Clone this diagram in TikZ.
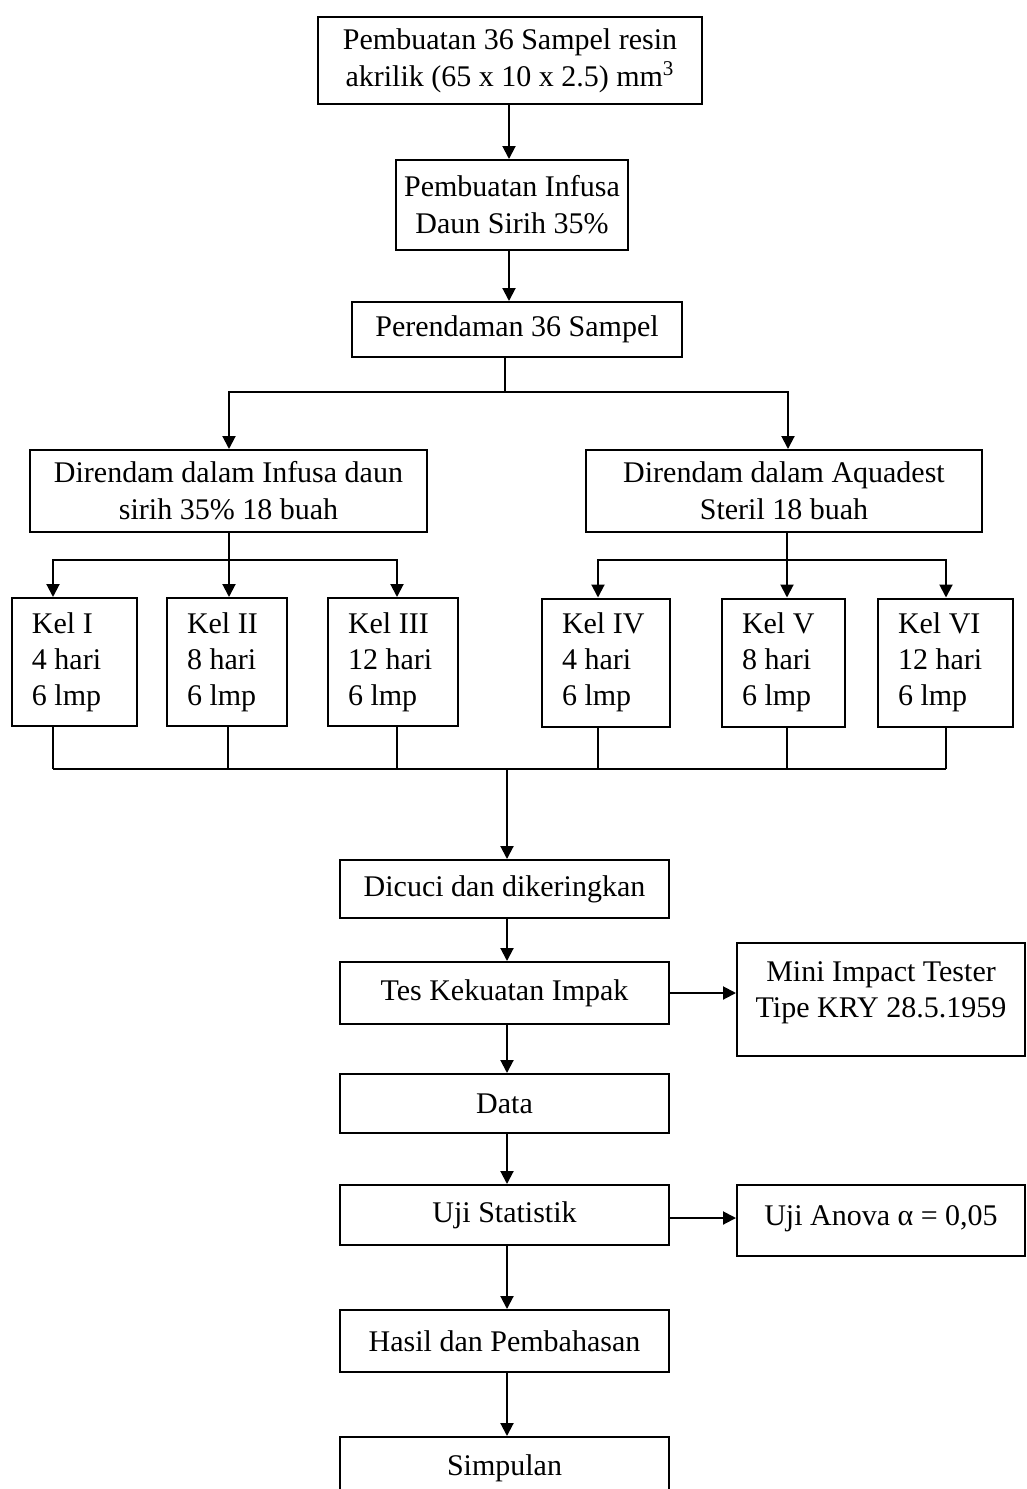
\documentclass[tikz,border=0pt]{standalone}
\usepackage{fontspec}
\setmainfont{Liberation Serif}
\usetikzlibrary{arrows.meta}
\begin{document}
\begin{tikzpicture}[x=0.5pt,y=-0.5pt,
  box/.style={draw, line width=1pt, inner sep=0pt, font=\fontsize{15}{18.5}\selectfont, align=center},
  kel/.style={draw, line width=1pt, inner xsep=10pt, inner ysep=0pt, font=\fontsize{15}{18}\selectfont, align=flush left, minimum height=64pt},
  txt/.style={inner sep=0pt, font=\fontsize{15}{18}\selectfont, align=center},
  arr/.style={-{Triangle[length=6.5pt,width=6.5pt]}, line width=1pt},
  ln/.style={line width=1pt}]
\useasboundingbox (0,0) rectangle (1027,1489);
% top chain
\node[box, minimum width=192pt, minimum height=43.5pt] (b1) at (510,60.5) {Pembuatan 36 Sampel resin\\akrilik (65 x 10 x 2.5) mm\textsuperscript{3}};
\node[box, minimum width=116pt, minimum height=45pt] (b2) at (512,205) {Pembuatan Infusa\\Daun Sirih 35\%};
\node[box, minimum width=165pt, minimum height=27.5pt] (b3) at (517,329.5) {Perendaman 36 Sampel};
\node[box, minimum width=198.5pt, minimum height=41pt] (b4) at (228.5,491) {Direndam dalam Infusa daun\\sirih 35\% 18 buah};
\node[box, minimum width=198pt, minimum height=41pt] (b5) at (784,491) {Direndam dalam Aquadest\\Steril 18 buah};
% groups
\node[kel, text width=42.5pt] (k1) at (74.5,662) {Kel I\\4 hari\\6 lmp};
\node[kel, text width=40pt] (k2) at (227,662) {Kel II\\8 hari\\6 lmp};
\node[kel, text width=45pt] (k3) at (393,662) {Kel III\\12 hari\\6 lmp};
\node[kel, text width=44pt] (k4) at (606,662.5) {Kel IV\\4 hari\\6 lmp};
\node[kel, text width=41.5pt] (k5) at (783.5,662.5) {Kel V\\8 hari\\6 lmp};
\node[kel, text width=47.5pt] (k6) at (945.5,662.5) {Kel VI\\12 hari\\6 lmp};
% lower chain
\node[box, minimum width=164.5pt, minimum height=29pt] (d1) at (504.5,889) {Dicuci dan dikeringkan};
\node[box, minimum width=164.5pt, minimum height=31pt] (d2) at (504.5,993) {Tes Kekuatan Impak};
\node[box, minimum width=144pt, minimum height=56.5pt] (mini) at (881,999.5) {};
\node[txt] (minit) at (881,993) {Mini Impact Tester\\Tipe KRY 28.5.1959};
\node[box, minimum width=164.5pt, minimum height=29.5pt] (d3) at (504.5,1103.5) {Data};
\node[box, minimum width=164.5pt, minimum height=30pt] (d4) at (504.5,1215) {Uji Statistik};
\node[box, minimum width=144pt, minimum height=35.5pt] (anova) at (881,1220.5) {};
\node[txt] (anovat) at (881,1219) {Uji Anova α = 0,05};
\node[box, minimum width=164.5pt, minimum height=31pt] (d5) at (504.5,1341) {Hasil dan Pembahasan};
\node[box, minimum width=164.5pt, minimum height=31.5pt] (d6) at (504.5,1468.5) {Simpulan};
% connectors top
\draw[arr] (b1.south -| 509,0) -- (b2.north -| 509,0);
\draw[arr] (b2.south -| 509,0) -- (b3.north -| 509,0);
\coordinate (j1) at (505,392);
\draw[ln] (b3.south -| j1) -- (j1);
\draw[arr] (j1) -| (b4.north -| 229,0);
\draw[arr] (j1) -| (b5.north -| 788,0);
\coordinate (j2) at (229,560);
\draw[ln] (b4.south -| j2) -- (j2);
\draw[arr] (j2) -| (k1.north -| 53,0);
\draw[arr] (j2) -| (k3.north -| 397,0);
\draw[arr] (j2) -- (k2.north -| j2);
\coordinate (j3) at (787,560);
\draw[ln] (b5.south -| j3) -- (j3);
\draw[arr] (j3) -| (k4.north -| 598,0);
\draw[arr] (j3) -| (k6.north -| 946,0);
\draw[arr] (j3) -- (k5.north -| j3);
% bus
\foreach \n/\x in {k1/53,k2/228,k3/397,k4/598,k5/787,k6/946} {\draw[ln] (\n.south -| \x,0) -- (\x,769);}
\coordinate (bl) at (53,769);
\coordinate (br) at (946,769);
\coordinate (bm) at (507,769);
\draw[ln] (bl) -- (br);
\draw[arr] (bm) -- (d1.north -| bm);
% lower connectors
\coordinate (ua) at (669,1218);
\draw[arr] (d1.south -| 507,0) -- (d2.north -| 507,0);
\draw[arr] (d2.east) -- (mini.west |- d2.east);
\draw[arr] (d2.south -| 507,0) -- (d3.north -| 507,0);
\draw[arr] (d3.south -| 507,0) -- (d4.north -| 507,0);
\draw[arr] (d4.east |- ua) -- (anova.west |- ua);
\draw[arr] (d4.south -| 507,0) -- (d5.north -| 507,0);
\draw[arr] (d5.south -| 507,0) -- (d6.north -| 507,0);
\end{tikzpicture}
\end{document}
